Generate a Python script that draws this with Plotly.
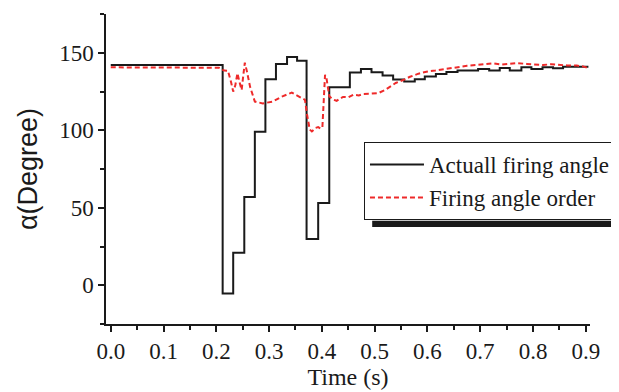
import plotly.graph_objects as go

# Actual firing angle (step signal): start times and levels
actual_t = [0.0, 0.212, 0.232, 0.253, 0.273, 0.293, 0.313, 0.334, 0.353, 0.371, 0.393, 0.414,
            0.453, 0.474, 0.494, 0.515, 0.535, 0.556, 0.576, 0.595, 0.616, 0.636, 0.657, 0.696,
            0.717, 0.737, 0.756, 0.778, 0.797, 0.818, 0.838, 0.857, 0.905]
actual_v = [142.1, -5.3, 20.9, 56.9, 99.0, 132.9, 142.8, 147.3, 144.9, 29.9, 53.0, 127.8,
            137.2, 139.5, 137.4, 135.3, 132.7, 131.4, 132.9, 134.6, 136.3, 137.6, 138.5, 139.5,
            138.5, 140.2, 138.5, 140.6, 139.5, 140.6, 140.0, 141.0, 141.0]

# Firing angle order (dashed)
order_t = [0.0, 0.05, 0.1, 0.15, 0.19, 0.205, 0.215, 0.222, 0.228, 0.232, 0.236, 0.240,
           0.244, 0.248, 0.251, 0.254, 0.258, 0.264, 0.273, 0.288, 0.307, 0.324, 0.343,
           0.358, 0.368, 0.372, 0.377, 0.381, 0.388, 0.393, 0.398, 0.401, 0.404, 0.406,
           0.409, 0.414, 0.42, 0.428, 0.435, 0.44, 0.45, 0.46, 0.47, 0.478, 0.49, 0.507,
           0.52, 0.529, 0.54, 0.554, 0.567, 0.583, 0.598, 0.615, 0.63, 0.645, 0.662, 0.675,
           0.693, 0.71, 0.725, 0.74, 0.756, 0.77, 0.788, 0.80, 0.819, 0.835, 0.851, 0.865,
           0.883, 0.895, 0.905]
order_v = [140.6, 140.6, 140.6, 140.7, 140.6, 140.3, 138.5, 138.4, 131.0, 124.9, 129.0, 136.8,
           131.0, 126.0, 135.0, 143.6, 138.0, 128.0, 118.5, 117.3, 118.5, 121.7, 124.3,
           121.7, 119.6, 110.0, 100.5, 99.2, 101.5, 102.0, 101.0, 102.0, 125.0, 135.7,
           133.0, 122.0, 120.0, 119.0, 120.5, 121.5, 121.3, 123.0, 122.5, 123.4, 123.5, 124.0,
           126.0, 128.1, 130.5, 132.4, 134.5, 136.5, 137.8, 138.5, 139.3, 140.0, 141.0, 141.6,
           142.1, 142.5, 143.2, 142.4, 142.8, 143.3, 142.8, 142.5, 142.1, 142.6, 142.1, 141.8,
           141.7, 141.2, 140.0]

x_ticks = [0.0, 0.1, 0.2, 0.3, 0.4, 0.5, 0.6, 0.7, 0.8, 0.9]
x_tick_labels = ["0.0", "0.1", "0.2", "0.3", "0.4", "0.5", "0.6", "0.7", "0.8", "0.9"]
y_ticks = [0, 50, 100, 150]

serif = "Liberation Serif"

fig = go.Figure()
fig.add_trace(go.Scatter(
    x=actual_t, y=actual_v, mode="lines", line=dict(color="#1a1a1a", width=2, shape="hv"),
    name="Actuall firing angle"))
fig.add_trace(go.Scatter(
    x=order_t, y=order_v, mode="lines", line=dict(color="#ee2a2a", width=2, dash="5px,3px"),
    name="Firing angle order"))

# legend shadow bar
fig.add_shape(type="rect", xref="paper", yref="paper", x0=0.55, x1=1.1, y0=0.313, y1=0.333,
              fillcolor="#1a1a1a", line=dict(width=0), layer="above")

axis_common = dict(showline=True, linecolor="#1a1a1a", linewidth=1.5, ticks="outside",
                   tickcolor="#1a1a1a", ticklen=6, tickwidth=1.5, showgrid=False, automargin=False,
                   zeroline=False, mirror=False, tickfont=dict(family=serif, size=23, color="#1a1a1a"))

fig.update_xaxes(range=[-0.009, 0.908], tickvals=x_ticks, ticktext=x_tick_labels,
                 minor=dict(ticks="outside", ticklen=4, tickcolor="#1a1a1a", dtick=0.05, tick0=0, showgrid=False),
                 title=dict(text="Time (s)", font=dict(family=serif, size=24, color="#1a1a1a"), standoff=2),
                 **axis_common)
fig.update_yaxes(range=[-25, 175], tickvals=y_ticks,
                 minor=dict(ticks="outside", ticklen=4, tickcolor="#1a1a1a", dtick=25, tick0=0, showgrid=False),
                 title=dict(text="α(Degree)", font=dict(family="Liberation Sans", size=27, color="#1a1a1a"), standoff=14),
                 **axis_common)

fig.update_layout(
    width=611, height=384,
    margin=dict(l=98, r=29, t=6, b=68, autoexpand=False),
    plot_bgcolor="white", paper_bgcolor="white",
    legend=dict(x=0.533, y=0.587, xanchor="left", yanchor="top",
                bgcolor="white", bordercolor="#1a1a1a", borderwidth=1,
                font=dict(family=serif, size=23, color="#1a1a1a"),
                itemwidth=54),
)

fig.write_html("out.html")
